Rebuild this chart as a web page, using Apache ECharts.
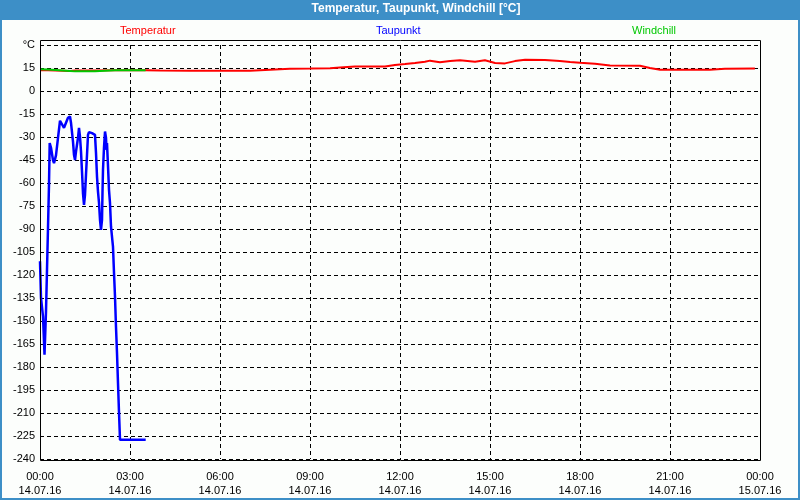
<!DOCTYPE html>
<html>
<head>
<meta charset="utf-8">
<script src="https://cdn.jsdelivr.net/npm/echarts@6/dist/echarts.min.js"></script>
<style>
html,body{margin:0;padding:0;}
#frame{position:relative;width:800px;height:500px;background:#3D8FC7;overflow:hidden;}
#inner{position:absolute;left:2px;top:20px;width:796px;height:478px;background:#FCFEFC;}
#chart{position:absolute;left:0;top:0;width:800px;height:500px;}
</style>
</head>
<body>
<div id="frame"><div id="inner"></div><div id="chart"></div></div>
<script>
// hours since 14.07.16 00:00
const xTicksHours = [0, 3, 6, 9, 12, 15, 18, 21, 24];
const yTicks = [-240, -225, -210, -195, -180, -165, -150, -135, -120, -105, -90, -75, -60, -45, -30, -15, 0, 15, 30];

const tempHours = [0, 0.27, 0.33, 1.0, 1.17, 1.83, 1.87, 2.5, 3.0, 3.5, 4.0, 5.0, 6.0, 7.0, 7.67, 8.33, 9.0, 9.67, 10.0, 10.5, 11.5, 11.83, 12.17, 12.5, 12.83, 13.0, 13.33, 13.67, 14.0, 14.5, 14.83, 15.17, 15.5, 15.83, 16.17, 16.83, 17.33, 17.67, 18.0, 18.5, 19.0, 20.0, 20.33, 20.67, 22.33, 22.83, 23.83];
const tempValues = [13.6, 13.6, 13.1, 13.1, 13.3, 13.3, 13.5, 13.5, 13.6, 13.6, 13.4, 13.2, 13.2, 13.2, 13.9, 14.5, 14.6, 14.8, 15.4, 16.0, 16.0, 17.0, 17.6, 18.3, 19.1, 19.8, 18.7, 19.6, 20.0, 19.1, 20.0, 18.3, 18.0, 19.5, 20.4, 20.2, 19.5, 18.9, 18.4, 17.8, 16.7, 16.5, 15.0, 13.9, 13.9, 14.5, 14.7];

const dewHours = [0.000, 0.033, 0.100, 0.150, 0.200, 0.233, 0.267, 0.300, 0.323, 0.367, 0.433, 0.467, 0.533, 0.600, 0.667, 0.733, 0.800, 0.867, 0.933, 1.000, 1.033, 1.100, 1.133, 1.167, 1.200, 1.267, 1.300, 1.333, 1.367, 1.400, 1.433, 1.467, 1.500, 1.533, 1.567, 1.600, 1.633, 1.733, 1.833, 1.867, 1.900, 1.933, 1.967, 2.000, 2.033, 2.067, 2.083, 2.100, 2.133, 2.167, 2.200, 2.217, 2.233, 2.267, 2.300, 2.333, 2.367, 2.433, 2.467, 2.500, 2.533, 2.567, 2.600, 2.633, 2.667, 3.523];
const dewValues = [-111, -135, -147, -172, -144, -117, -89, -61, -34, -37, -45, -47, -42, -30.6, -19.4, -20, -24, -20.7, -17.5, -16.6, -20.7, -33, -41.6, -45, -39.5, -30.5, -24, -29.7, -39.5, -52.5, -66.7, -74.3, -67.7, -54.7, -41.6, -28.6, -26.8, -27.5, -28.6, -40.5, -55.8, -65.6, -73, -84, -90.6, -84, -66.5, -51.4, -37, -26.4, -30.5, -38.4, -34, -49, -64.5, -73, -88.5, -101.5, -118.7, -134, -153.8, -171, -190.5, -209.3, -227.5, -227.5];

const chillHours = [0, 0.27, 0.33, 1.0, 1.17, 1.83, 1.87, 2.5, 3.0, 3.52];
const chillValues = [14.2, 14.0, 13.1, 13.1, 12.8, 12.8, 13.5, 13.5, 13.5, 13.5];

const seriesNames = ['Temperatur', 'Taupunkt', 'Windchill'];
const seriesColors = ['#FF0000', '#0000FF', '#00C800'];

const FONT = 'Liberation Sans';
const G = {left: 40, right: 40, top: 45, bottom: 41};

function zip(xs, ys) { return xs.map((x, i) => [x, ys[i]]); }
function pad(n) { return (n < 10 ? '0' : '') + n; }
function fmtX(h) {
  const day = 14 + Math.floor(h / 24);
  const hh = h % 24;
  return pad(hh) + ':00\n' + pad(day) + '.07.16';
}

const chart = echarts.init(document.getElementById('chart'), null, {renderer: 'canvas'});
const legendLefts = [115, 371, 627];
chart.setOption({
  animation: false,
  backgroundColor: 'transparent',
  textStyle: {fontFamily: FONT},
  title: {
    text: 'Temperatur, Taupunkt, Windchill [°C]',
    left: 416, top: 3, padding: 0, textAlign: 'center',
    textStyle: {color: '#FFFFFF', fontSize: 12, fontWeight: 'bold', fontFamily: FONT}
  },
  legend: seriesNames.map((n, i) => ({
    data: [n], left: legendLefts[i], top: 25, padding: 0,
    itemWidth: 0, itemHeight: 0, icon: 'rect', selectedMode: false,
    textStyle: {color: seriesColors[i], fontSize: 11, fontFamily: FONT}
  })),
  grid: {left: G.left, right: G.right, top: G.top, bottom: G.bottom, containLabel: false},
  xAxis: {
    type: 'value', min: 0, max: 24, interval: 3, offset: 2,
    axisLine: {show: false},
    axisTick: {show: true, length: 3, lineStyle: {color: '#000'}},
    minorTick: {show: true, splitNumber: 3, length: 3, lineStyle: {color: '#000'}},
    axisLabel: {formatter: fmtX, color: '#000', fontSize: 11, margin: 9, lineHeight: 14, fontFamily: FONT, showMinLabel: true, showMaxLabel: true},
    splitLine: {show: true, lineStyle: {color: '#000', type: [4, 3], width: 1}}
  },
  yAxis: {
    type: 'value', min: yTicks[0], max: yTicks[yTicks.length - 1], interval: 15,
    axisLine: {show: false},
    axisTick: {show: false},
    axisLabel: {formatter: v => v === 30 ? '°C' : String(v), color: '#000', fontSize: 11, margin: 5, fontFamily: FONT},
    splitLine: {show: true, lineStyle: {color: '#000', type: [4, 3], width: 1}}
  },
  graphic: [{
    type: 'rect', silent: true, z: 100,
    shape: {x: G.left + 0.5, y: 40.5, width: 800 - G.left - G.right, height: 420},
    style: {fill: null, stroke: '#000', lineWidth: 1}
  }],
  series: [
    {name: seriesNames[0], type: 'line', data: zip(tempHours, tempValues), showSymbol: false, lineStyle: {color: seriesColors[0], width: 2}, itemStyle: {color: seriesColors[0]}, z: 3},
    {name: seriesNames[1], type: 'line', data: zip(dewHours, dewValues), showSymbol: false, lineStyle: {color: seriesColors[1], width: 2.5}, itemStyle: {color: seriesColors[1]}, z: 4},
    {name: seriesNames[2], type: 'line', data: zip(chillHours, chillValues), showSymbol: false, lineStyle: {color: seriesColors[2], width: 2}, itemStyle: {color: seriesColors[2]}, z: 5}
  ]
});
</script>
</body>
</html>
